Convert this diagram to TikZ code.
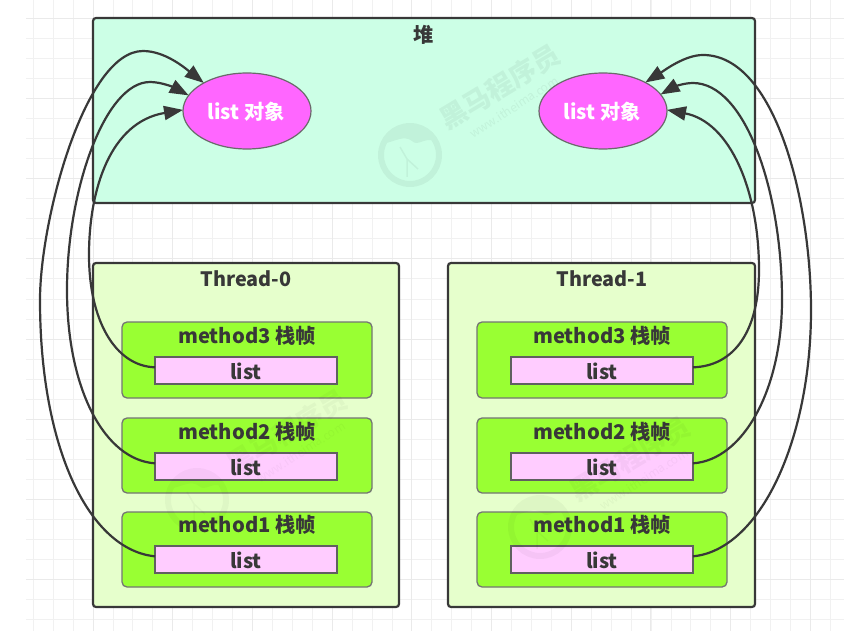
\documentclass[tikz,border=0pt]{standalone}
\usepackage{fontspec}
\setmainfont{Noto Sans CJK SC}
\usetikzlibrary{arrows.meta,shapes.geometric}
\definecolor{edge}{HTML}{383838}
\definecolor{gridline}{HTML}{F1F1F1}
\definecolor{gridmajor}{HTML}{EAEAEA}
\definecolor{heapfill}{HTML}{CCFFE6}
\definecolor{threadfill}{HTML}{E6FFCC}
\definecolor{framefill}{HTML}{99FF33}
\definecolor{slotfill}{HTML}{FFCCFF}
\definecolor{objfill}{HTML}{FF66FF}
\tikzset{
  panel/.style={draw=edge,line width=2.2pt,rounded corners=3pt,anchor=north west,inner sep=0pt,outer sep=0pt},
  heapbox/.style={panel,fill=heapfill},
  threadbox/.style={panel,fill=threadfill},
  framebox/.style={draw=edge!70,line width=1.3pt,rounded corners=5pt,fill=framefill,anchor=north west,
    inner sep=0pt,outer sep=0pt,minimum width=250pt},
  slotbox/.style={draw=edge!80,line width=1.4pt,fill=slotfill,anchor=north west,inner sep=0pt,outer sep=0pt,
    minimum width=182pt,minimum height=27pt},
  slotlabel/.style={font=\fontsize{20}{20}\selectfont\bfseries,text=edge,inner sep=0pt},
  objnode/.style={draw=edge!75,line width=1.2pt,fill=objfill,ellipse,minimum width=128pt,minimum height=76pt,
    inner sep=0pt,outer sep=0pt},
  objlabel/.style={font=\fontsize{20.2}{20}\selectfont\bfseries,text=white,inner sep=0pt},
  caption/.style={font=\fontsize{20.2}{20}\selectfont\bfseries,text=edge,inner sep=0pt},
  threadcaption/.style={caption,font=\fontsize{19.8}{20}\selectfont\bfseries},
  ref/.style={draw=edge,line width=2.2pt},
  refhead/.style={ref,-{Triangle[length=19pt,width=14pt,fill=edge]}},
  stamp/.style={transparency group,opacity=#1},
}
% brand stamp: ring emblem with the two rotated lines of text to its upper right
\newcommand{\brandstamp}[3]{%
  \begin{scope}[shift={(#1,#2)},stamp=#3]
    \draw[black,line width=6pt] (0,0) circle [radius=29];
    \fill[black] (-24,-12) .. controls (-10,-34) and (14,-34) .. (25,-14)
      .. controls (14,-18) and (8,-8) .. (2,-14) .. controls (-6,-20) and (-14,-14) .. cycle;
    \draw[black,line width=1.5pt] (-3,22) -- (-3,4) -- (-10,-8) (-3,4) -- (8,14);
    \node[rotate=31,text=black,inner sep=0pt,font=\fontsize{27}{27}\selectfont\bfseries] at (90,-68) {黑马程序员};
    \node[rotate=33,text=black,inner sep=0pt,font=\fontsize{12}{12}\selectfont] at (104,-48) {www.itheima.com};
  \end{scope}%
}
\begin{document}
\begin{tikzpicture}[x=1pt,y=-1pt]
\useasboundingbox (0,0) rectangle (849,631);
\fill[white] (0,0) rectangle (849,631);
% background grid
\foreach \k in {0,...,40} {
  \pgfmathsetmacro{\gx}{33.3+19.93*\k}
  \draw[gridline,line width=1pt] (\gx,0) -- (\gx,631);
}
\foreach \k in {0,...,31} {
  \pgfmathsetmacro{\gy}{19+20*\k}
  \draw[gridline,line width=1pt] (26,\gy) -- (844,\gy);
}
\foreach \k in {0,...,9} {
  \pgfmathsetmacro{\gx}{93+79.7*\k}
  \draw[gridmajor,line width=1pt] (\gx,0) -- (\gx,631);
}
\foreach \k in {0,...,7} {
  \pgfmathsetmacro{\gy}{19+80*\k}
  \draw[gridmajor,line width=1pt] (26,\gy) -- (844,\gy);
}

% heap and thread panels
\node[heapbox,minimum width=662pt,minimum height=185pt] (heap) at (93,18) {};
\node[caption] (heaplabel) at (424,35) {堆};
\node[threadbox,minimum width=306pt,minimum height=344pt] (t0) at (93,263) {};
\node[threadbox,minimum width=307pt,minimum height=344pt] (t1) at (448,263) {};
\node[threadcaption] (t0label) at (246,279) {Thread-0};
\node[threadcaption] (t1label) at (602,279) {Thread-1};

% stack frames with their captions
\foreach \nm/\fx/\fy/\fh/\cy/\num in {
    a3/122/322/76/336/3, a2/122/418/75/432/2, a1/122/512/75/525/1,
    b3/477/322/76/336/3, b2/477/418/75/432/2, b1/477/512/75/525/1} {
  \node[framebox,minimum height=\fh pt] (\nm) at (\fx,\fy) {};
  \node[caption] (\nm label) at (\fx+125,\cy) {method\num{} 栈帧};
}

% local variable slots
\foreach \nm/\sx/\sy in {sa3/155/357,sa2/155/453,sa1/155/546,sb3/511/357,sb2/511/453,sb1/511/546} {
  \node[slotbox] (\nm) at (\sx,\sy) {};
  \node[slotlabel] (\nm label) at (\sx+91,\sy+14) {list};
}

% heap objects
\node[objnode] (objl) at (247,111) {};
\node[objnode] (objr) at (603,111) {};
\node[objlabel] (objllabel) at (246,112) {list 对象};
\node[objlabel] (objrlabel) at (602,112) {list 对象};

% references from slots to heap objects
\draw[refhead] (sa3.178) .. controls (115,366) and (89,320) .. (89,255)
  .. controls (89,190) and (110,122) .. (objl.179);
\draw[refhead] (sa2.178) .. controls (105,460) and (67,390) .. (67,290)
  .. controls (67,190) and (105,82) .. (150,82) .. controls (162,82) and (175,88) .. (objl.165);
\draw[refhead] (sa1.178) .. controls (90,550) and (40,450) .. (40,300)
  .. controls (40,220) and (85,51) .. (143,51) .. controls (165,51) and (185,68) .. (objl.147);
\draw[refhead] (sb3.2) .. controls (735,366) and (759,330) .. (759,270)
  .. controls (759,190) and (730,122) .. (objr.1);
\draw[refhead] (sb2.2) .. controls (743,460) and (782,390) .. (782,300)
  .. controls (782,190) and (745,83) .. (693,83) .. controls (682,83) and (672,88) .. (objr.16);
\draw[refhead] (sb1.2) .. controls (760,550) and (811,440) .. (811,310)
  .. controls (811,200) and (775,55) .. (703,55) .. controls (685,55) and (665,70) .. (objr.34);

% faint brand stamps across the panels
\brandstamp{410}{155}{.05}
\brandstamp{197}{500}{.03}
\brandstamp{540}{527}{.035}
\end{tikzpicture}
\end{document}
